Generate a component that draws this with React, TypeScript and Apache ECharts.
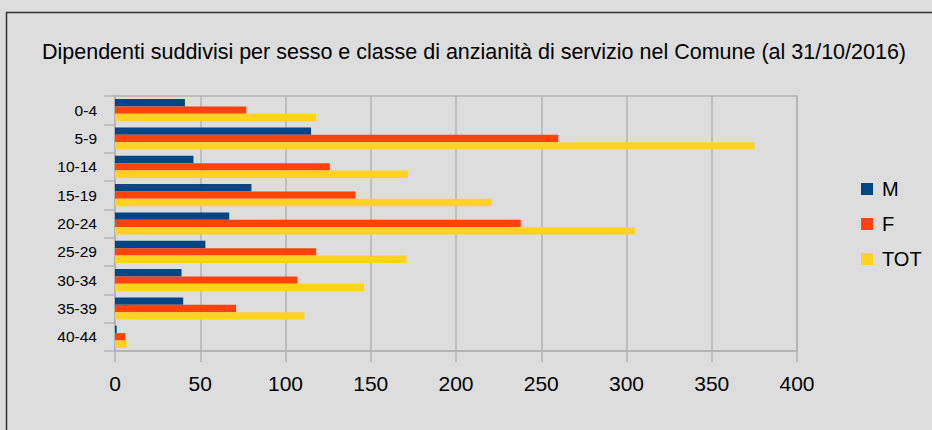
import React, { useEffect, useRef } from "react";
import * as echarts from "echarts";

const categories = ["0-4", "5-9", "10-14", "15-19", "20-24", "25-29", "30-34", "35-39", "40-44"];
const valuesM = [41, 115, 46, 80, 67, 53, 39, 40, 1];
const valuesF = [77, 260, 126, 141, 238, 118, 107, 71, 6];
const valuesTOT = [118, 375, 172, 221, 305, 171, 146, 111, 7];
const xTicks = { min: 0, max: 400, interval: 50 };
const titleText = "Dipendenti suddivisi per sesso e classe di anzianità di servizio nel Comune (al 31/10/2016)";

const FONT = "'Liberation Sans', Arial, sans-serif";
const GRID = "#b3b3b3";

export default function App() {
  const ref = useRef<HTMLDivElement>(null);
  useEffect(() => {
    if (!ref.current) return;
    const chart = echarts.init(ref.current, undefined, { renderer: "svg" });
    chart.setOption({
      animation: false,
      backgroundColor: "#dddddd",
      textStyle: { fontFamily: FONT },
      graphic: [
        {
          type: "rect",
          shape: { x: 6.5, y: 12.5, width: 1000, height: 600 },
          style: { fill: "none", stroke: "#333333", lineWidth: 1.5 },
          z: -10,
          silent: true,
        },
      ],
      title: {
        text: titleText,
        left: 474,
        textAlign: "center",
        top: 41,
        padding: 0,
        textStyle: { fontFamily: FONT, fontSize: 21.5, fontWeight: "normal", color: "#000000" },
      },
      legend: {
        orient: "vertical",
        left: 861,
        top: 179,
        padding: 0,
        itemWidth: 12,
        itemHeight: 12,
        itemGap: 15,
        icon: "rect",
        textStyle: { fontFamily: FONT, fontSize: 20, lineHeight: 20, color: "#000000", padding: [0, 0, 0, 4] },
        data: ["M", "F", "TOT"],
      },
      grid: {
        left: 115,
        right: 135,
        top: 96,
        bottom: 79,
        containLabel: false,
        show: true,
        borderColor: GRID,
        borderWidth: 1.5,
        backgroundColor: "transparent",
      },
      xAxis: {
        type: "value",
        min: xTicks.min,
        max: xTicks.max,
        interval: xTicks.interval,
        axisLine: { show: true, lineStyle: { color: GRID, width: 1.5 } },
        axisTick: { show: true, length: 11, inside: false, lineStyle: { color: GRID, width: 1.5 } },
        splitLine: { show: true, lineStyle: { color: GRID, width: 1.5 } },
        axisLabel: { fontFamily: FONT, fontSize: 21, color: "#000000", margin: 22 },
      },
      yAxis: {
        type: "category",
        data: categories,
        inverse: true,
        axisLine: { show: true, lineStyle: { color: GRID, width: 1.5 } },
        axisTick: { show: true, length: 11, inside: false, alignWithLabel: false, interval: 0, lineStyle: { color: GRID, width: 1.5 } },
        splitLine: { show: false },
        axisLabel: { fontFamily: FONT, fontSize: 15.5, color: "#000000", margin: 18, interval: 0 },
      },
      series: [
        { name: "M", type: "bar", data: valuesM, itemStyle: { color: "#004586" }, barGap: "0%", barCategoryGap: "22%" },
        { name: "F", type: "bar", data: valuesF, itemStyle: { color: "#ff420e" }, barGap: "0%", barCategoryGap: "22%" },
        { name: "TOT", type: "bar", data: valuesTOT, itemStyle: { color: "#ffd320" }, barGap: "0%", barCategoryGap: "22%" },
      ],
    });
    return () => chart.dispose();
  }, []);
  return (
    <div
      ref={ref}
      style={{ position: "fixed", left: 0, top: 0, width: 932, height: 430, background: "#dddddd" }}
    />
  );
}
